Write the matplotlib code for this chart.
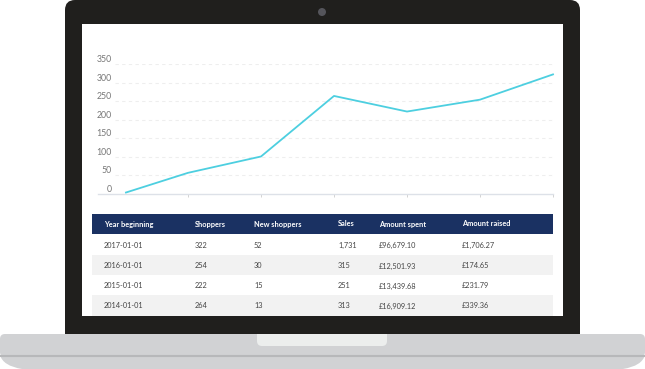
import matplotlib
matplotlib.use("Agg")
import matplotlib.pyplot as plt
from matplotlib.patches import FancyBboxPatch, Rectangle, Circle, PathPatch
from matplotlib.path import Path

plt.rcParams['font.family'] = ['Lato', 'DejaVu Sans']

# chart data (shoppers per year)
years = [2011.15, 2012, 2013, 2014, 2015, 2016, 2017]
shoppers = [4, 57, 101, 264, 222, 254, 322]
y_ticks = [0, 50, 100, 150, 200, 250, 300, 350]

# table data
headers = ['Year beginning', 'Shoppers', 'New shoppers', 'Sales', 'Amount spent', 'Amount raised']
col_x = [104, 195, 254, 338, 379, 462]
year_col = ['2017-01-01', '2016-01-01', '2015-01-01', '2014-01-01']
shoppers_col = ['322', '254', '222', '264']
new_col = ['52', '30', '15', '13']
sales_col = ['1,731', '315', '251', '313']
spent_col = ['£96,679.10', '£12,501.93', '£13,439.68', '£16,909.12']
raised_col = ['£1,706.27', '£174.65', '£231.79', '£339.36']

W, H = 645, 369
fig = plt.figure(figsize=(W / 100, H / 100), dpi=100)

# background layer in pixel coords: the laptop
bg = fig.add_axes([0, 0, 1, 1])
bg.set_xlim(0, W)
bg.set_ylim(H, 0)
bg.axis('off')

base_col = '#d1d2d4'
# tapered bottom of the base
verts = [(0, 355), (3, 366), (22, 369), (623, 369), (642, 366), (645, 355), (0, 355)]
codes = [Path.MOVETO, Path.CURVE3, Path.CURVE3, Path.LINETO, Path.CURVE3, Path.CURVE3, Path.CLOSEPOLY]
bg.add_patch(PathPatch(Path(verts, codes), fc=base_col, ec='none'))
bg.add_patch(FancyBboxPatch((5, 339), 635, 13, boxstyle='round,pad=5', fc=base_col, ec='none'))
bg.plot([0, W], [356, 356], color='#b7b8ba', lw=1.5, solid_capstyle='butt')
# notch
bg.add_patch(FancyBboxPatch((262, 322), 120, 19, boxstyle='round,pad=5', fc='#eceeed', ec='none'))
# bezel, cut off where the base starts
bezel = FancyBboxPatch((75, 10), 495, 340, boxstyle='round,pad=10', fc='#201f1d', ec='none')
bg.add_patch(bezel)
clip = Rectangle((0, 0), W, 334, transform=bg.transData)
bezel.set_clip_path(clip)
bg.add_patch(Circle((322, 12), 4, fc='#55555b', ec='none'))
# screen
bg.add_patch(Rectangle((82, 24), 481, 292, fc='white', ec='none'))

# table
bg.add_patch(Rectangle((92, 214), 461, 20, fc='#1a3162', ec='none'))
row_top = [234, 255, 275, 295]
row_h = [21, 20, 20, 21]
for i in range(len(year_col)):
    if i % 2 == 1:
        bg.add_patch(Rectangle((92, row_top[i]), 461, row_h[i], fc='#f2f2f2', ec='none'))
for x, h in zip(col_x, headers):
    bg.text(x, 224, h, color='white', fontsize=5.3, fontweight='bold', va='center', ha='left')
for i, row in enumerate(zip(year_col, shoppers_col, new_col, sales_col, spent_col, raised_col)):
    for x, v in zip(col_x, row):
        bg.text(x, row_top[i] + 11, v, color='#444444', fontsize=5.3, va='center', ha='left')

# line chart
ax = fig.add_axes([98 / W, (H - 194) / H, 455 / W, (194 - 64) / H])
ax.patch.set_alpha(0)
ax.set_xlim(2010.767, 2017.0)
ax.set_ylim(0, 350)
for y in y_ticks[1:]:
    ax.axhline(y, xmin=0.037, xmax=1, color='#eeeeee', lw=0.8, ls=(0, (3, 3)), zorder=0)
ax.plot(years, shoppers, color='#4dcfe0', lw=1.3, clip_on=False, zorder=3)
for s in ['top', 'right', 'left']:
    ax.spines[s].set_visible(False)
ax.spines['bottom'].set_color('#dde1e8')
ax.spines['bottom'].set_linewidth(1)
ax.set_xticks(years[1:])
ax.set_xticklabels([])
ax.tick_params(axis='x', length=2, color='#cccccc', width=0.6)
ax.set_yticks(y_ticks)
ax.set_yticklabels([str(v) for v in y_ticks])
ax.tick_params(axis='y', length=0, pad=-10, labelsize=6.3, labelcolor='#777777')
for lab in ax.get_yticklabels():
    lab.set_va('bottom')
    lab.set_ha('right')

fig.savefig('out.png', dpi=100)
